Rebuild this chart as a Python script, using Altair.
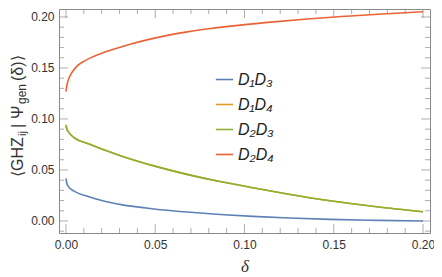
import altair as alt
import pandas as pd

# --- data ---
d13_x = [0, 0.0005, 0.0013, 0.003, 0.005, 0.0124, 0.0216, 0.0309, 0.0493, 0.0678, 0.0863, 0.1047, 0.125, 0.148, 0.175, 0.2]
d13_y = [0.0418, 0.037, 0.034, 0.031, 0.0288, 0.0239, 0.0193, 0.0160, 0.0118, 0.0088, 0.0064, 0.0045, 0.0029, 0.0016, 0.0006, 0.0]

d23_x = [0, 0.0005, 0.0013, 0.003, 0.005, 0.0124, 0.0216, 0.0309, 0.0493, 0.0678, 0.0863, 0.1047, 0.124, 0.148, 0.174, 0.2]
d23_y = [0.0941, 0.090, 0.0876, 0.084, 0.0811, 0.0758, 0.0695, 0.0638, 0.0540, 0.0457, 0.0386, 0.0325, 0.0265, 0.0198, 0.0140, 0.0091]

d14_x = list(d23_x)
d14_y = list(d23_y)

d24_x = [0, 0.00055, 0.0017, 0.0033, 0.0059, 0.0105, 0.0151, 0.0207, 0.0262, 0.0355, 0.0465, 0.0576, 0.0687, 0.0798, 0.0909, 0.113, 0.1352, 0.157, 0.175, 0.2]
d24_y = [0.1268, 0.1333, 0.1399, 0.1454, 0.1513, 0.1570, 0.1610, 0.1648, 0.1680, 0.1730, 0.1780, 0.1822, 0.1856, 0.1884, 0.1908, 0.1947, 0.1980, 0.2007, 0.2027, 0.2052]

series_names = ["D₁D₃", "D₁D₄", "D₂D₃", "D₂D₄"]
series_colors = ["#5E81B5", "#E19C24", "#8FB032", "#EB6235"]

x_major = [0, 0.05, 0.1, 0.15, 0.2]
x_minor = [0.01, 0.02, 0.03, 0.04, 0.06, 0.07, 0.08, 0.09, 0.11, 0.12, 0.13, 0.14, 0.16, 0.17, 0.18, 0.19]
y_major = [0, 0.05, 0.1, 0.15, 0.2]
y_minor = [-0.01, 0.01, 0.02, 0.03, 0.04, 0.06, 0.07, 0.08, 0.09, 0.11, 0.12, 0.13, 0.14, 0.16, 0.17, 0.18, 0.19]

rows = []
for name, xs_, ys_ in zip(series_names, [d13_x, d14_x, d23_x, d24_x], [d13_y, d14_y, d23_y, d24_y]):
    for a, b in zip(xs_, ys_):
        rows.append({"delta": a, "value": b, "series": name})
df = pd.DataFrame(rows)

W, H = 371, 224
XD = [-0.0039, 0.2039]
YD = [-0.0118, 0.2078]
frame_col = "#8a8a8a"
txt_col = "#333333"

xs = alt.Scale(domain=XD, nice=False, zero=False)
ys = alt.Scale(domain=YD, nice=False, zero=False)

lines = alt.Chart(df).mark_line(strokeWidth=1.6, interpolate="monotone").encode(
    x=alt.X("delta:Q", scale=xs,
            axis=alt.Axis(values=x_major, format=".2f", ticks=False, domain=False, grid=False,
                          labelFontSize=12, labelColor=txt_col, labelPadding=6, labelFont="Liberation Sans",
                          title="δ", titleFontSize=17, titleFontStyle="italic", titleFontWeight="normal",
                          titleColor=txt_col, titlePadding=8, titleFont="Liberation Serif")),
    y=alt.Y("value:Q", scale=ys,
            axis=alt.Axis(values=y_major, format=".2f", ticks=False, domain=False, grid=False,
                          labelFontSize=12, labelColor=txt_col, labelPadding=5, labelFont="Liberation Sans",
                          title=None)),
    color=alt.Color("series:N", scale=alt.Scale(domain=series_names, range=series_colors),
                    legend=alt.Legend(title=None, orient="none", legendX=156, legendY=61,
                                      symbolType="stroke", symbolStrokeWidth=1.6, symbolSize=300,
                                      labelFontSize=16, labelFontStyle="italic", labelFont="Liberation Sans",
                                      labelColor="#222222", rowPadding=7, labelOffset=4)),
    order=alt.Order("series:N"),
)

def tick_layer(vals, axis, pos, size, offset):
    d = pd.DataFrame({"v": vals})
    if axis == "x":
        return alt.Chart(d).mark_tick(size=size, thickness=1, color=frame_col, yOffset=offset, orient="vertical").encode(
            x=alt.X("v:Q", scale=xs), y=alt.value(pos))
    else:
        return alt.Chart(d).mark_tick(size=size, thickness=1, color=frame_col, xOffset=offset, orient="horizontal").encode(
            y=alt.Y("v:Q", scale=ys), x=alt.value(pos))

ticks = [
    tick_layer(x_major, "x", H, 9, -4.5),
    tick_layer(x_minor, "x", H, 5, -2.5),
    tick_layer(x_major, "x", 0, 9, 4.5),
    tick_layer(x_minor, "x", 0, 5, 2.5),
    tick_layer(y_major, "y", 0, 9, 4.5),
    tick_layer(y_minor, "y", 0, 5, 2.5),
    tick_layer(y_major, "y", W, 9, -4.5),
    tick_layer(y_minor, "y", W, 5, -2.5),
]

# y-axis title pieces: (text, font size, start y in page px, baseline x in page px)
title_parts = [
    ("⟨GHZ", 16, 177, 23),
    ("ij", 11, 136, 26),
    ("|", 16, 128, 23),
    ("Ψ", 16, 119, 23),
    ("gen", 12, 104, 26),
    ("(δ)⟩", 16, 81, 23),
]
title_layers = []
for t, fs, py, px in title_parts:
    title_layers.append(
        alt.Chart(alt.Data(values=[{"k": 1}])).mark_text(
            text=t, fontSize=fs, angle=270, align="left", baseline="alphabetic",
            color=txt_col, font="Liberation Sans"
        ).encode(x=alt.value(px - 59), y=alt.value(py - 9))
    )

chart = alt.layer(*ticks, lines, *title_layers).properties(
    width=W, height=H,
    autosize=alt.AutoSizeParams(type="none"),
    padding={"left": 51, "top": 1, "right": 4, "bottom": 44},
).configure_view(stroke=frame_col, strokeWidth=1)

chart.save("out.html", embed_options={"renderer": "svg", "actions": False})
